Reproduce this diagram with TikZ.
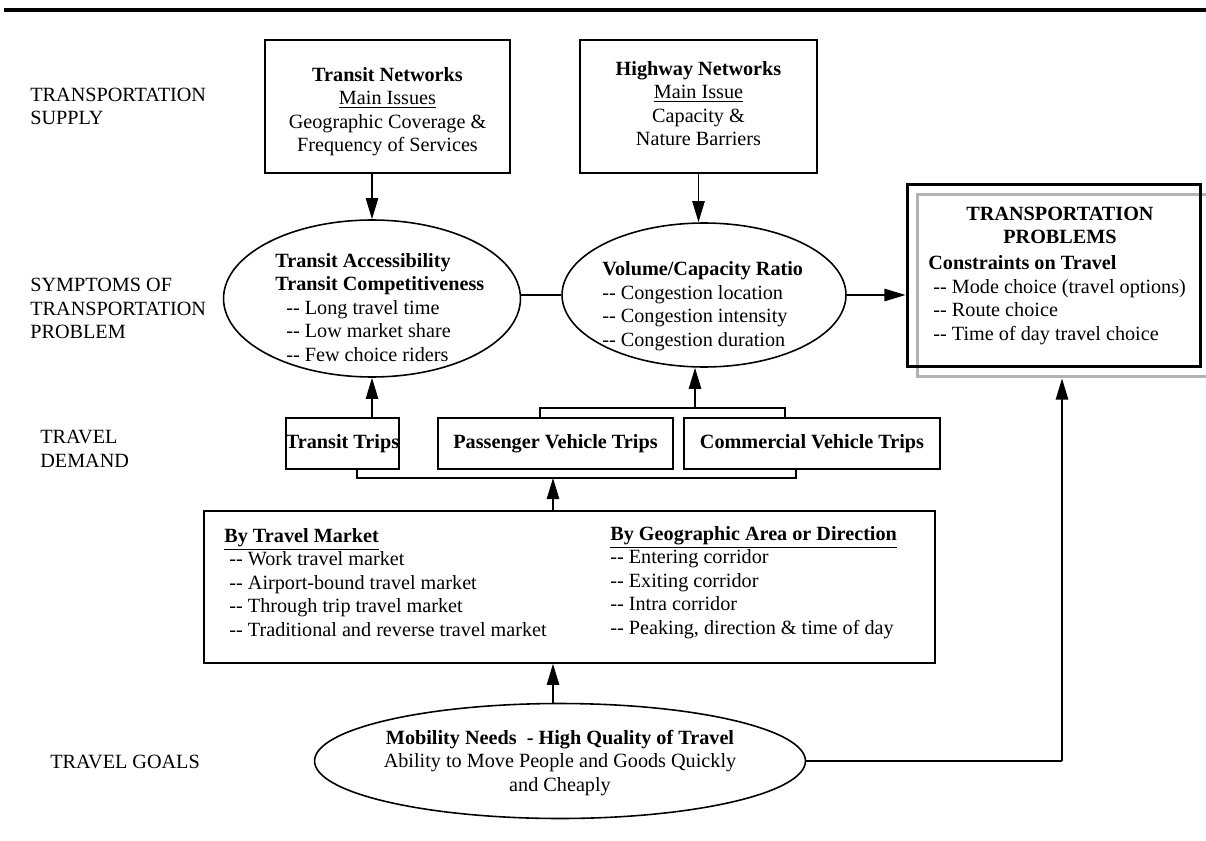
\documentclass[tikz,border=0pt]{standalone}
\usepackage{fontspec}
\setmainfont{Liberation Serif}
\usetikzlibrary{arrows.meta,shapes.geometric,positioning,calc}
\newcommand{\twohy}{-\kern0pt-}

\tikzset{
  box/.style={draw, line width=0.9pt, inner sep=0pt},
  oval/.style={draw, ellipse, line width=0.9pt, inner sep=0pt},
  arr/.style={line width=0.9pt, -{Triangle[length=12pt,width=7pt]}},
  wire/.style={line width=0.9pt},
  lbl/.style={anchor=west, align=left, inner sep=0pt},
}

\begin{document}
\begin{tikzpicture}[x=0.02cm, y=-0.02cm, font=\fontsize{11.5}{13.4}\selectfont]
\useasboundingbox (0,0) rectangle (1206,841);
\draw[line width=2pt] (4,10) -- (1206,10);

% row labels
\node[lbl] (supply) at (30,106.5) {TRANSPORTATION\\SUPPLY};
\node[lbl] (symptoms) at (30,308.5) {SYMPTOMS OF\\TRANSPORTATION\\PROBLEM};
\node[lbl] (demand) at (40,449) {TRAVEL\\DEMAND};
\node[lbl] (goals) at (50,762) {TRAVEL GOALS};

% supply
\node[box, minimum width=4.9cm, minimum height=2.66cm] (tnet) at (387.5,106.5) {};
\node[align=center, inner sep=0pt] (tnettxt) at (387.5,111.5)
  {\textbf{Transit Networks}\\\underline{Main Issues}\\Geographic Coverage \&\\Frequency of Services};
\node[box, minimum width=4.74cm, minimum height=2.66cm] (hnet) at (698.5,106.5) {};
\node[align=center, inner sep=0pt] (hnettxt) at (698.5,103.5)
  {\textbf{Highway Networks}\\\underline{Main Issue}\\Capacity \&\\Nature Barriers};

% symptoms
\node[oval, minimum width=5.94cm, minimum height=3.14cm] (el1) at (372,298.5) {};
\node[lbl] (el1txt) at (275,307.5)
  {\textbf{Transit Accessibility}\\\textbf{Transit Competitiveness}\\\hspace*{0.22cm}\twohy{} Long travel time\\\hspace*{0.22cm}\twohy{} Low market share\\\hspace*{0.22cm}\twohy{} Few choice riders};
\node[oval, minimum width=5.68cm, minimum height=2.88cm] (el2) at (704,295) {};
\node[lbl] (el2txt) at (602,306)
  {\textbf{Volume/Capacity Ratio}\\\twohy{} Congestion location\\\twohy{} Congestion intensity\\\twohy{} Congestion duration};

% problems
\node[draw=gray!60, line width=1.7pt, minimum width=5.96cm, minimum height=3.66cm] (tpshade) at (1066,285.5) {};
\node[box, line width=1.7pt, minimum width=5.88cm, minimum height=3.66cm] (tp) at (1054,275.5) {};
\node[align=center, inner sep=0pt] (tptitle) at (1060,225.5) {\textbf{TRANSPORTATION}\\\textbf{PROBLEMS}};
\node[lbl] (tplist) at (928,300)
  {\textbf{Constraints on Travel}\\\ \twohy{} Mode choice (travel options)\\\ \twohy{} Route choice\\\ \twohy{} Time of day travel choice};

% demand
\node[box, minimum width=2.22cm, minimum height=1.02cm] (ttrip) at (342.5,443.5) {\textbf{Transit Trips}};
\node[box, minimum width=4.7cm, minimum height=1.02cm] (ptrip) at (555.5,443.5) {\textbf{Passenger Vehicle Trips}};
\node[box, minimum width=5.12cm, minimum height=1.02cm] (ctrip) at (812,443.5) {\textbf{Commercial Vehicle Trips}};

\node[box, minimum width=14.62cm, minimum height=3.04cm] (market) at (569.5,587) {};
\node[lbl] (bymarket) at (224,582.5)
  {\underline{\textbf{By Travel Market}}\\\ \twohy{} Work travel market\\\ \twohy{} Airport-bound travel market\\\ \twohy{} Through trip travel market\\\ \twohy{} Traditional and reverse travel market};
\node[lbl] (byarea) at (610,582.5)
  {\underline{\textbf{By Geographic Area or Direction}}\\\twohy{} Entering corridor\\\twohy{} Exiting corridor\\\twohy{} Intra corridor\\\twohy{} Peaking, direction \& time of day};

% goals
\node[oval, minimum width=9.82cm, minimum height=2.3cm] (goal) at (560,761) {};
\node[align=center, inner sep=0pt] (goaltxt) at (560,763)
  {\textbf{Mobility Needs\ \ - High Quality of Travel}\\Ability to Move People and Goods Quickly\\and Cheaply};

% connectors
\coordinate (pv) at (540,408);
\coordinate (cv) at (785,408);
\coordinate (vc) at (695,408);
\coordinate (tb) at (357,478);
\coordinate (cb) at (796,478);
\coordinate (up) at (553,478);
\coordinate (corner) at (1062,761);

\draw[arr] (tnet.south -| el1.north) -- (el1.north);
\draw[arr] (hnet.south) -- (hnet.south |- el2.north);
\draw[wire] (el2.west -| el1.east) -- (el2.west);
\draw[arr] (el2.east) -- (el2.east -| tp.west);
\draw[arr] (el1.south |- ttrip.north) -- (el1.south);
\draw[wire] (pv |- ptrip.north) -- (pv) -- (cv) -- (cv |- ctrip.north);
\draw[arr] (vc) -- (vc |- el2.south);
\draw[wire] (tb |- ttrip.south) -- (tb) -- (cb) -- (cb |- ctrip.south);
\draw[arr] (market.north -| up) -- (up);
\draw[arr] (goal.north -| up) -- (market.south -| up);
\draw[wire] (goal.east) -- (corner);
\draw[arr] (corner) -- (corner |- tpshade.south);
\end{tikzpicture}
\end{document}
